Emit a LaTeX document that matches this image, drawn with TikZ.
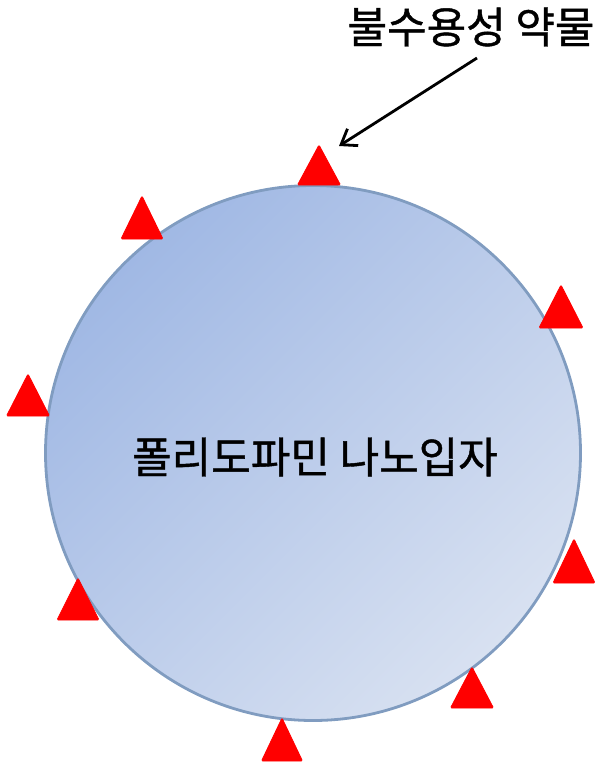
\documentclass[tikz,border=0pt]{standalone}
\usepackage{fontspec}
\newfontfamily\kr[FakeBold=1]{Noto Sans CJK KR}
\usetikzlibrary{arrows.meta}
\definecolor{cTL}{RGB}{160,184,228}
\definecolor{cBR}{RGB}{216,225,241}
\definecolor{cEdge}{RGB}{128,156,192}
\tikzset{
  drugtri/.style={fill=red, draw=red, line width=0.8pt, rounded corners=1.2pt},
  label/.style={font=\kr, text=black, inner sep=0pt},
}
\newcommand{\drugat}[4]{% apex x, apex y, base y, half width
  \path[drugtri] (#1,#2) -- (#1-#4,#3) -- (#1+#4,#3) -- cycle;}
\begin{document}
\begin{tikzpicture}[x=1pt,y=-1pt]
\useasboundingbox (0,0) rectangle (601,764);
\node[circle, minimum size=535pt, inner sep=0pt, draw=cEdge, line width=2.8pt,
  left color=cTL, right color=cBR, shading angle=45] (np) at (313,453) {};
\node[label, font=\kr\fontsize{43}{43}\selectfont] (nptext) at (315,457) {폴리도파민 나노입자};
\node[label, font=\kr\fontsize{43}{43}\selectfont] (drug) at (471,27) {불수용성 약물};
% drug particles
\drugat{319}{145}{185}{21.5}
\drugat{142}{196}{239}{21}
\drugat{28}{374}{416}{21.5}
\drugat{561}{285}{328}{22}
\drugat{574}{539}{583}{21}
\drugat{78}{578}{620}{21}
\drugat{282}{718}{761}{20.5}
\drugat{472}{667}{708}{21.5}
\coordinate (a1) at (477,58);
\coordinate (a2) at (339,146);
\draw[line width=2.8pt, -{Straight Barb[length=14pt,width=20pt]}] (a1) -- (a2);
\end{tikzpicture}
\end{document}
